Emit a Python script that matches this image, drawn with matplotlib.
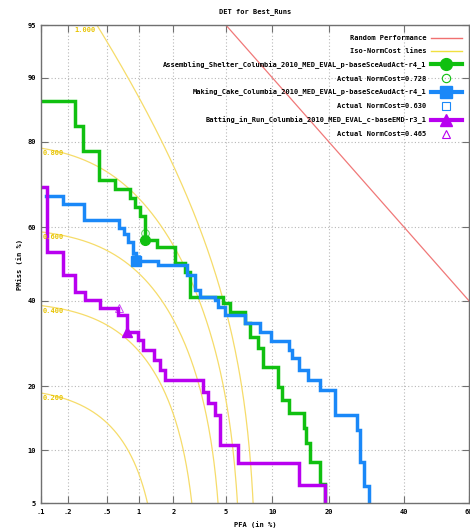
import numpy as np
import matplotlib
matplotlib.use("Agg")
import matplotlib.pyplot as plt
from matplotlib.lines import Line2D
from statistics import NormalDist

# MED 2010 cost model -> slope of the iso-cost lines
cost_miss = 80.0
cost_fa = 1.0
p_target = 0.001
beta = cost_fa * (1 - p_target) / (cost_miss * p_target)

x_ticks = [0.1, 0.2, 0.5, 1, 2, 5, 10, 20, 40, 60]
x_tick_labels = [".1", ".2", ".5", "1", "2", "5", "10", "20", "40", "60"]
y_ticks = [5, 10, 20, 40, 60, 80, 90, 95]
iso_costs = [0.2, 0.4, 0.6, 0.8, 1.0]

# DET step points, PFA / PMiss in %
shelter_pfa = [0.1, 0.24, 0.29, 0.42, 0.60, 0.83, 0.92, 1.02, 1.14, 1.44, 2.06, 2.48, 2.72,
               4.79, 5.36, 6.76, 7.28, 8.2, 8.74, 10.86, 11.4, 12.4, 14.95, 15.45, 16.2, 18.2, 19.1]
shelter_pmiss = [86.95, 82.9, 78.2, 71.8, 69.6, 67.4, 65.3, 62.9, 56.6, 54.7, 50.2, 47.9, 41.1,
                 39.3, 37.1, 34.2, 30.8, 28.1, 24.0, 19.8, 17.5, 15.2, 12.9, 10.9, 8.7, 6.5, 4.9]

cake_pfa = [0.114, 0.177, 0.296, 0.653, 0.728, 0.807, 0.886, 0.94, 1.495, 2.56, 2.97, 3.25, 4.2,
            4.43, 4.94, 6.76, 8.43, 9.8, 12.4, 12.95, 14.06, 15.87, 18.05, 21.45, 26.7, 27.57,
            28.44, 29.8]
cake_pmiss = [68.0, 65.9, 61.8, 59.9, 58.2, 56.0, 53.1, 50.8, 49.6, 47.0, 42.9, 41.1, 40.2,
              38.4, 36.3, 34.3, 32.1, 29.9, 27.7, 25.8, 23.3, 21.2, 19.3, 14.9, 12.7, 8.7,
              6.3, 4.9]

batting_pfa = [0.1, 0.117, 0.179, 0.239, 0.303, 0.431, 0.65, 0.78, 0.997, 1.105, 1.37, 1.545,
               1.705, 3.44, 3.75, 4.2, 4.56, 6.1, 14.06, 19.1]
batting_pmiss = [70.1, 53.4, 47.0, 42.4, 40.2, 38.0, 36.3, 32.0, 30.0, 27.7, 25.45, 23.3,
                 21.2, 18.95, 16.9, 14.9, 10.6, 8.5, 6.4, 4.9]

run_names = ["Assembling_Shelter_Columbia_2010_MED_EVAL_p-baseSceAudAct-r4_1",
             "Making_Cake_Columbia_2010_MED_EVAL_p-baseSceAudAct-r4_1",
             "Batting_in_Run_Columbia_2010_MED_EVAL_c-baseEMD-r3_1"]
# minimum cost points
min_pfa = [1.14, 0.94, 0.78]
min_pmiss = [56.6, 50.8, 32.0]
# actual decision points
act_cost = [0.728, 0.630, 0.465]
act_pfa = [1.14, 0.94, 0.665]

colors = ["#10c010", "#1a88f8", "#b800f0"]
markers = ["o", "s", "^"]

plt.rcParams['font.family'] = ['DejaVu Sans Mono']
plt.rcParams['font.weight'] = 'bold'

# normal deviate scale
_nd = NormalDist()
_ppf = np.vectorize(_nd.inv_cdf, otypes=[float])
_cdf = np.vectorize(_nd.cdf, otypes=[float])


def fwd(p):
    p = np.clip(np.asarray(p, float) / 100.0, 1e-9, 1 - 1e-9)
    return _ppf(p)


def inv(z):
    return 100.0 * _cdf(np.asarray(z, float))


fig = plt.figure(figsize=(4.7, 5.29), dpi=100)
ax = fig.add_axes([40.7 / 470, 26 / 529, 428.3 / 470, 478 / 529])
ax.set_xscale('function', functions=(fwd, inv))
ax.set_yscale('function', functions=(fwd, inv))

# random performance
pr = np.linspace(0.1, 60, 300)
ax.plot(pr, 100 - pr, color="#f07878", lw=0.9)

# iso cost lines
for c in iso_costs:
    pf = np.geomspace(0.1, 100 * c / beta, 300)
    ax.plot(pf, 100 * c - beta * pf, color="#f6dc6a", lw=0.9)
    if c == 1.0:
        xy, off = (0.1, 95), (24, -3.6)
    else:
        xy, off = (0.1, 100 * c - beta * 0.1), (1.7, -3.6)
    ax.annotate("%.3f" % c, xy=xy, xytext=off, textcoords='offset points',
                ha='left', va='center', fontsize=5, color="#e8c400")

curves = [(shelter_pfa, shelter_pmiss), (cake_pfa, cake_pmiss), (batting_pfa, batting_pmiss)]
for i, (pf, pm) in enumerate(curves):
    ax.plot(pf, pm, drawstyle='steps-post', color=colors[i], lw=2.5, solid_joinstyle='miter')
    ax.plot(min_pfa[i], min_pmiss[i], marker=markers[i], color=colors[i], ms=7, ls='none')
    ax.plot(act_pfa[i], 100 * act_cost[i] - beta * act_pfa[i], marker=markers[i], mfc='none',
            mec=colors[i], mew=0.7, ms=5.5, ls='none', alpha=0.7)

ax.set_xlim(0.1, 60)
ax.set_ylim(5, 95)
ax.set_xticks(x_ticks)
ax.set_xticklabels(x_tick_labels)
ax.set_yticks(y_ticks)
ax.set_yticklabels([str(v) for v in y_ticks])
ax.minorticks_off()
ax.grid(True, color="#b8b8b8", linestyle=(0, (1, 2)), lw=0.8)
ax.tick_params(direction='in', length=5, width=0.8, color="#707070", top=True, right=True,
               labelsize=5)
ax.tick_params(axis='x', pad=4)
ax.tick_params(axis='y', pad=3.4)
for s in ax.spines.values():
    s.set_color("#707070")
    s.set_linewidth(1.0)

# legend, text on the left of the samples
handles = [Line2D([], [], color="#f07070", lw=1.0),
           Line2D([], [], color="#f0e040", lw=1.0)]
labels = ["Random Performance", "Iso-NormCost lines"]
for i in range(3):
    handles.append(Line2D([], [], color=colors[i], lw=3, marker=markers[i], ms=8.5))
    handles.append(Line2D([], [], ls='none', marker=markers[i], mfc='none', mec=colors[i],
                          mew=0.8, ms=6))
    labels.append(run_names[i])
    labels.append("Actual NormCost=%.3f" % act_cost[i])
ax.legend(handles, labels, loc='upper right', bbox_to_anchor=(462 / 470, 1 - 35 / 529),
          bbox_transform=fig.transFigure, frameon=False, markerfirst=False, numpoints=1,
          handlelength=4.5, handletextpad=0.6, labelspacing=1.0, borderpad=0,
          borderaxespad=0, fontsize=5)

fig.text(255 / 470, 1 - 12 / 529, "DET for Best_Runs", ha='center', va='center', fontsize=5)
fig.text(255 / 470, 1 - 525 / 529, "PFA (in %)", ha='center', va='center', fontsize=5)
fig.text(20 / 470, 1 - 265 / 529, "PMiss (in %)", ha='center', va='center', rotation=90,
         fontsize=5)

fig.savefig("out.png", dpi=100)
